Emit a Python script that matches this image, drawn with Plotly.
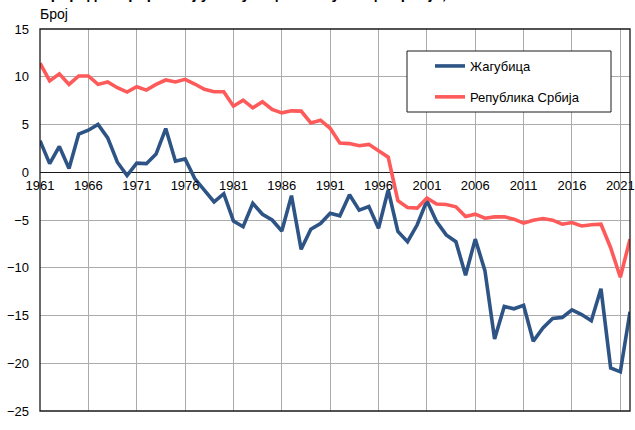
import plotly.graph_objects as go

years = list(range(1961, 2023))

zagubica = [3.3, 0.9, 2.7, 0.4, 4.0, 4.4, 5.0, 3.6, 1.05, -0.35,
            0.95, 0.9, 1.9, 4.57, 1.16, 1.4, -0.66, -1.9, -3.1, -2.25,
            -5.1, -5.7, -3.26, -4.4, -5.0, -6.15, -2.45, -8.07, -5.97, -5.37,
            -4.3, -4.56, -2.35, -3.97, -3.6, -5.86, -1.86, -6.2, -7.27, -5.5,
            -2.98, -5.16, -6.56, -7.27, -10.78, -7.0, -10.3, -17.45, -14.05, -14.3,
            -13.94, -17.7, -16.3, -15.3, -15.2, -14.4, -14.9, -15.55, -12.2, -20.5,
            -20.9, -14.6]

srbija = [11.42, 9.56, 10.3, 9.2, 10.08, 10.08, 9.2, 9.45, 8.85, 8.4,
          8.96, 8.6, 9.2, 9.66, 9.45, 9.73, 9.24, 8.68, 8.43, 8.43,
          6.92, 7.55, 6.74, 7.38, 6.57, 6.22, 6.43, 6.4, 5.16, 5.45,
          4.6, 3.06, 3.0, 2.78, 2.92, 2.21, 1.58, -2.98, -3.69, -3.76,
          -2.7, -3.33, -3.37, -3.62, -4.63, -4.39, -4.81, -4.67, -4.67, -4.91,
          -5.33, -5.02, -4.85, -5.02, -5.44, -5.27, -5.62, -5.5, -5.44, -7.9,
          -11.0, -7.0]

series_names = ["Жагубица", "Република Србија"]
series_colors = ["#2E5486", "#FF5A5A"]
x_ticks = list(range(1961, 2022, 5))
y_ticks = list(range(-25, 16, 5))

title_text = "Природни прираштај у Жагубици и Републици Србији, 1961–2022"
y_label = "Број"

W, H = 635, 430
ml, mr, mt, mb = 40, 5, 29, 19
plot_w = W - ml - mr
plot_h = H - mt - mb


def px_x(p):
    return (p - ml) / plot_w


def px_y(p):
    return (H - mb - p) / plot_h


fig = go.Figure()
for name, vals, col in zip(series_names, [zagubica, srbija], series_colors):
    fig.add_trace(go.Scatter(
        x=years, y=vals, mode="lines", name=name,
        line=dict(color=col, width=3.6),
        legendgroup=name,
    ))

FONT = "Liberation Sans, Arial, sans-serif"

fig.update_layout(
    width=W, height=H,
    margin=dict(l=ml, r=mr, t=mt, b=mb, autoexpand=False),
    paper_bgcolor="white", plot_bgcolor="white",
    font=dict(family=FONT, size=13, color="black"),
    xaxis=dict(
        range=[1961, 2022], tickvals=x_ticks, ticktext=[str(v) for v in x_ticks],
        showgrid=True, gridcolor="#ABABAB", gridwidth=1,
        zeroline=False, showline=False,
        anchor="free", position=25 / 40,
        ticks="", ticklabelstandoff=4,
        tickfont=dict(family=FONT, size=13, color="black"),
    ),
    yaxis=dict(
        range=[-25, 15], tickvals=y_ticks,
        showgrid=True, gridcolor="#ABABAB", gridwidth=1,
        zeroline=True, zerolinecolor="#1a1a1a", zerolinewidth=1.3,
        showline=False, ticks="", ticklabelstandoff=10,
        tickfont=dict(family=FONT, size=13, color="black"),
    ),
    legend=dict(
        x=px_x(430), y=px_y(51),
        xanchor="left", yanchor="top",
        bgcolor="rgba(0,0,0,0)", borderwidth=0,
        font=dict(family=FONT, size=13, color="black"),
        traceorder="grouped", tracegroupgap=11,
    ),
    showlegend=True,
)

# plot frame
fig.add_shape(type="rect", xref="paper", yref="paper", x0=0, x1=1, y0=0, y1=1,
              line=dict(color="#1a1a1a", width=1.3), layer="above")
# legend frame
fig.add_shape(type="rect", xref="paper", yref="paper",
              x0=px_x(407), x1=px_x(611), y0=px_y(112), y1=px_y(51),
              line=dict(color="#1a1a1a", width=1), fillcolor="white", layer="above")

fig.add_annotation(text=y_label, xref="paper", yref="paper",
                   x=px_x(38), y=px_y(14), xanchor="left", yanchor="middle",
                   showarrow=False, font=dict(family=FONT, size=14, color="black"))
fig.add_annotation(text="<b>" + title_text + "</b>", xref="paper", yref="paper",
                   x=px_x(38), y=px_y(4), xanchor="left", yanchor="bottom",
                   showarrow=False, font=dict(family=FONT, size=15, color="black"))

fig.write_html("out.html", config={"displayModeBar": False},
               post_script="document.body.style.margin='0';document.body.style.padding='0';")
